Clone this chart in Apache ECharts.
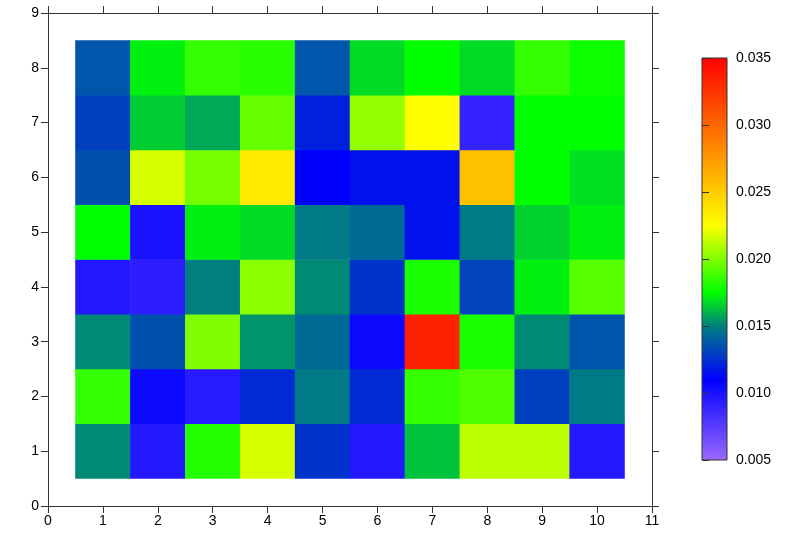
<!DOCTYPE html>
<html>
<head>
<meta charset="utf-8">
<script src="https://cdn.jsdelivr.net/npm/echarts@6/dist/echarts.min.js"></script>
<style>
html,body{margin:0;padding:0;background:#fff;}
#chart{width:800px;height:533px;}
</style>
</head>
<body>
<div id="chart"></div>
<script>
// ---- data ----
const xLabels = ['0','1','2','3','4','5','6','7','8','9','10','11'];
const yLabels = ['0','1','2','3','4','5','6','7','8','9'];
const columns = [1,2,3,4,5,6,7,8,9,10];
const row1 = [0.0152, 0.0096, 0.0182, 0.0217, 0.0126, 0.0096, 0.0163, 0.0212, 0.0212, 0.0096];
const row2 = [0.0185, 0.0105, 0.0095, 0.0123, 0.0148, 0.0123, 0.0185, 0.0190, 0.0130, 0.0148];
const row3 = [0.0152, 0.0135, 0.0200, 0.0154, 0.0143, 0.0105, 0.0334, 0.0180, 0.0152, 0.0136];
const row4 = [0.0096, 0.0093, 0.0150, 0.0202, 0.0152, 0.0126, 0.0180, 0.0131, 0.0172, 0.0192];
const row5 = [0.0175, 0.0100, 0.0172, 0.0168, 0.0148, 0.0143, 0.0115, 0.0148, 0.0166, 0.0172];
const row6 = [0.0135, 0.0217, 0.0198, 0.0236, 0.0110, 0.0115, 0.0115, 0.0256, 0.0175, 0.0169];
const row7 = [0.0130, 0.0165, 0.0158, 0.0195, 0.0120, 0.0204, 0.0225, 0.0090, 0.0175, 0.0175];
const row8 = [0.0137, 0.0172, 0.0185, 0.0183, 0.0137, 0.0168, 0.0175, 0.0168, 0.0185, 0.0178];
const rows = [row1, row2, row3, row4, row5, row6, row7, row8];
const rowY = [1,2,3,4,5,6,7,8];
const scaleMin = 0.005;
const scaleMax = 0.035;
const scaleStep = 0.005;

// ---- colour map (style) ----
const anchors = [
  [0.005,  [155,105,255]],
  [0.011,  [0,0,255]],
  [0.015,  [0,128,128]],
  [0.0175, [0,255,0]],
  [0.0225, [255,255,0]],
  [0.035,  [255,0,0]]
];
function cmap(v){
  for (let i=0;i<anchors.length-1;i++){
    const a=anchors[i], b=anchors[i+1];
    if (v<=b[0]+1e-12){
      const t=Math.max(0,Math.min(1,(v-a[0])/(b[0]-a[0])));
      const c=a[1].map((x,k)=>Math.round(x+(b[1][k]-x)*t));
      return 'rgb('+c.join(',')+')';
    }
  }
  return 'rgb('+anchors[anchors.length-1][1].join(',')+')';
}
const mapColors=[];
for (let i=0;i<=60;i++){ mapColors.push(cmap(scaleMin+(scaleMax-scaleMin)*i/60)); }
const gradStops = anchors.map(a=>({offset:(a[0]-scaleMin)/(scaleMax-scaleMin), color:'rgb('+a[1].join(',')+')'}));

const heatData=[];
rows.forEach((r,ri)=>{ r.forEach((v,ci)=>{ heatData.push([columns[ci], rowY[ri], v]); }); });

const FONT = 'Liberation Sans, Arial, sans-serif';
const axisLine = {show:true, lineStyle:{color:'#333', width:1}};
const axisTick = {show:true, inside:false, length:7, lineStyle:{color:'#333', width:1}};
const lbl = {fontFamily:FONT, fontSize:14, color:'#000'};

const chart = echarts.init(document.getElementById('chart'), null, {renderer:'canvas'});
chart.setOption({
  animation:false,
  backgroundColor:'#fff',
  grid:[
    {left:48, top:13, width:604, height:493, show:false},
    {left:702, top:58, width:25, height:402, show:true,
     backgroundColor:new echarts.graphic.LinearGradient(0,1,0,0,gradStops),
     borderColor:'#333', borderWidth:1}
  ],
  xAxis:[
    {type:'category', gridIndex:0, data:xLabels, boundaryGap:false, position:'bottom',
     axisLine, axisTick:Object.assign({interval:0},axisTick),
     axisLabel:Object.assign({interval:0, margin:8},lbl), splitLine:{show:false}},
    {type:'category', gridIndex:0, data:xLabels, boundaryGap:false, position:'top',
     axisLine, axisTick:Object.assign({interval:0},axisTick),
     axisLabel:{show:false}, splitLine:{show:false}},
    {type:'value', gridIndex:1, show:false, min:0, max:1}
  ],
  yAxis:[
    {type:'category', gridIndex:0, data:yLabels, boundaryGap:false, position:'left',
     axisLine, axisTick:Object.assign({interval:0},axisTick),
     axisLabel:Object.assign({interval:0, margin:9},lbl), splitLine:{show:false}},
    {type:'category', gridIndex:0, data:yLabels, boundaryGap:false, position:'right',
     axisLine, axisTick:Object.assign({interval:0},axisTick),
     axisLabel:{show:false}, splitLine:{show:false}},
    {type:'value', gridIndex:1, position:'right', min:scaleMin, max:scaleMax, interval:scaleStep,
     axisLine:{show:false}, axisTick, splitLine:{show:false},
     axisLabel:Object.assign({margin:9, formatter:v=>v.toFixed(3)},lbl)}
  ],
  visualMap:{
    type:'continuous', show:false, min:scaleMin, max:scaleMax, dimension:2, seriesIndex:0,
    inRange:{color:mapColors}
  },
  series:[
    {type:'heatmap', xAxisIndex:0, yAxisIndex:0, data:heatData,
     itemStyle:{borderWidth:0}, emphasis:{disabled:true}, progressive:0}
  ]
});
</script>
</body>
</html>
